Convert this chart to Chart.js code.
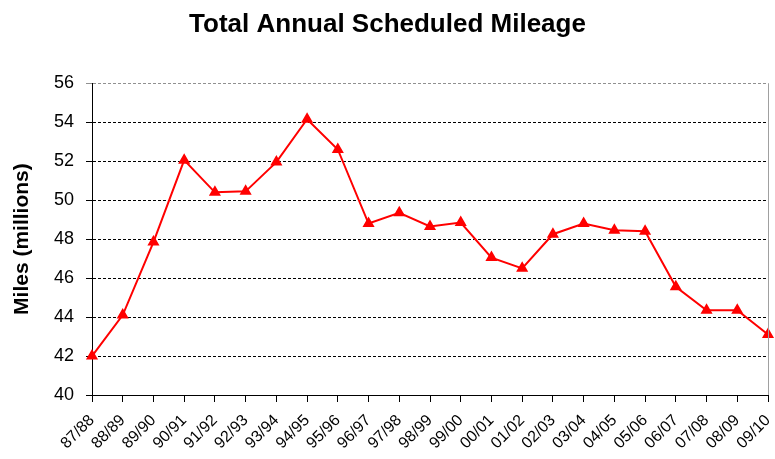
<!DOCTYPE html>
<html>
<head>
<meta charset="utf-8">
<script src="https://cdn.jsdelivr.net/npm/chart.js@4/dist/chart.umd.min.js"></script>
<style>
    html, body { margin: 0; padding: 0; background: #fff; }
    #wrap { width: 775px; height: 459px; }
</style>
</head>
<body>
<div id="wrap"><canvas id="mileage-chart" width="775" height="459"></canvas></div>
<script>
// Financial years
const years = ['87/88', '88/89', '89/90', '90/91', '91/92', '92/93', '93/94', '94/95', '95/96', '96/97',
    '97/98', '98/99', '99/00', '00/01', '01/02', '02/03', '03/04', '04/05', '05/06', '06/07',
    '07/08', '08/09', '09/10'];

// Scheduled miles, millions
const mileage = [42.0, 44.1, 47.85, 52.05, 50.4, 50.45, 51.95, 54.15, 52.6, 48.8,
    49.35, 48.65, 48.85, 47.05, 46.5, 48.25, 48.8, 48.45, 48.4, 45.55,
    44.35, 44.35, 43.1];

const yMin = 40;
const yMax = 56;
const yStep = 2;

const FONT = 'Liberation Sans, Arial, sans-serif';

// grey right edge of the plot area, like the spreadsheet original
const plotFrame = {
    id: 'plotFrame',
    afterDraw(chart) {
        const a = chart.chartArea;
        const ctx = chart.ctx;
        ctx.save();
        ctx.strokeStyle = '#a0a0a0';
        ctx.lineWidth = 1;
        ctx.beginPath();
        ctx.moveTo(a.right + 0.5, a.top);
        ctx.lineTo(a.right + 0.5, a.bottom);
        ctx.stroke();
        ctx.restore();
    }
};

const ctx = document.getElementById('mileage-chart').getContext('2d');
new Chart(ctx, {
    type: 'line',
    data: {
        labels: years,
        datasets: [{
            label: 'Scheduled mileage',
            data: mileage,
            borderColor: '#ff0000',
            backgroundColor: '#ff0000',
            borderWidth: 2,
            pointStyle: 'triangle',
            pointRadius: 5,
            pointHoverRadius: 5,
            tension: 0
        }]
    },
    options: {
        responsive: false,
        animation: false,
        layout: { padding: 0 },
        plugins: {
            legend: { display: false },
            tooltip: { enabled: false },
            title: {
                display: true,
                text: 'Total Annual Scheduled Mileage',
                color: '#000',
                font: { family: FONT, size: 26, weight: 'bold' },
                padding: { top: 9, bottom: 43 }
            }
        },
        scales: {
            x: {
                offset: false,
                grid: {
                    drawOnChartArea: false,
                    drawTicks: true,
                    tickLength: 7,
                    color: '#000'
                },
                border: { color: '#000', width: 1 },
                ticks: {
                    color: '#000',
                    font: { family: FONT, size: 16 },
                    maxRotation: 45,
                    minRotation: 45,
                    autoSkip: false,
                    padding: 9
                },
                afterFit(scale) {
                    scale.height = 64;
                    scale.paddingRight = 3;
                    scale.paddingLeft = 0;
                }
            },
            y: {
                min: yMin,
                max: yMax,
                grid: {
                    color: (c) => (c.tick && c.tick.value === yMax ? '#909090' : '#000'),
                    tickLength: 6,
                    lineWidth: 1
                },
                border: { color: '#000', width: 1, dash: [3, 2] },
                ticks: {
                    stepSize: yStep,
                    color: '#000',
                    font: { family: FONT, size: 18 },
                    padding: 12
                },
                title: {
                    display: true,
                    text: 'Miles (millions)',
                    color: '#000',
                    font: { family: FONT, size: 21, weight: 'bold' },
                    padding: { top: 10, bottom: 0 }
                },
                afterFit(scale) {
                    scale.width = 92;
                }
            }
        }
    },
    plugins: [plotFrame]
});
</script>
</body>
</html>
